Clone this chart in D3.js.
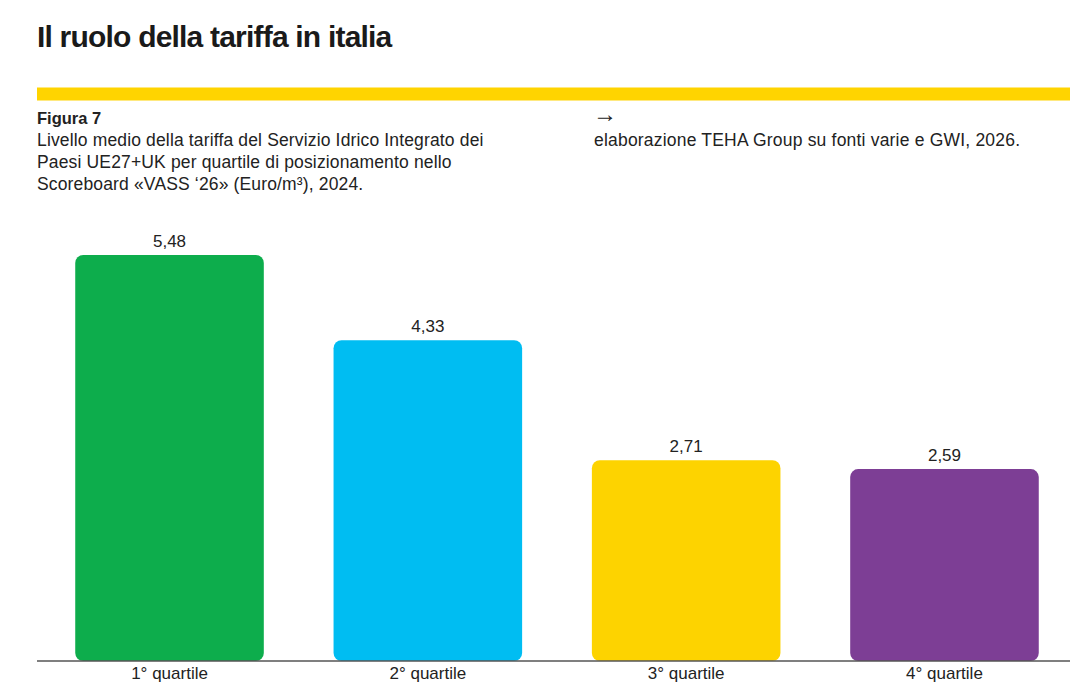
<!DOCTYPE html>
<html>
<head>
<meta charset="utf-8">
<script src="https://cdn.jsdelivr.net/npm/d3@7"></script>
<style>
  html, body { margin: 0; padding: 0; background: #fff; }
  svg { display: block; font-family: "Liberation Sans", Arial, sans-serif; }
</style>
</head>
<body>
<svg id="chart" width="1070" height="684"></svg>
<script>
// Tariff level by VASS '26 scoreboard quartile (Euro/m³), 2024
const categories = ["1° quartile", "2° quartile", "3° quartile", "4° quartile"];
const values = [5.48, 4.33, 2.71, 2.59];
const barColors = ["#0DAD4C", "#00BDF2", "#FDD300", "#7D3E95"];

const title = "Il ruolo della tariffa in italia";
const figureLabel = "Figura 7";
const subtitleLines = [
  "Livello medio della tariffa del Servizio Idrico Integrato dei",
  "Paesi UE27+UK per quartile di posizionamento nello",
  "Scoreboard «VASS ‘26» (Euro/m³), 2024."
];
const sourceLabel = "elaborazione TEHA Group su fonti varie e GWI, 2026.";

const fmt = v => d3.format(".2f")(v).replace(".", ",");

const svg = d3.select("#chart");
const W = 1070;
const left = 37;
const baseline = 661;
const ink = "#222";

// Header
svg.append("text")
  .attr("x", left).attr("y", 47)
  .attr("font-size", 30).attr("font-weight", 700)
  .attr("letter-spacing", -0.8)
  .attr("fill", "#1a1a1a")
  .text(title);

svg.append("rect")
  .attr("x", left).attr("y", 87.5)
  .attr("width", W - left).attr("height", 13)
  .attr("fill", "#FFD400");

svg.append("text")
  .attr("x", left).attr("y", 123.5)
  .attr("font-size", 16.5).attr("font-weight", 700)
  .attr("fill", ink)
  .text(figureLabel);

svg.append("g").selectAll("text")
  .data(subtitleLines)
  .join("text")
  .attr("x", left)
  .attr("y", (d, i) => 146 + i * 22)
  .attr("font-size", 17.5)
  .attr("letter-spacing", 0.15)
  .attr("fill", ink)
  .text(d => d);

svg.append("text")
  .attr("x", 593).attr("y", 122)
  .attr("font-size", 24)
  .attr("fill", ink)
  .text("→");

svg.append("text")
  .attr("x", 594).attr("y", 146)
  .attr("font-size", 17.5)
  .attr("letter-spacing", 0.2)
  .attr("fill", ink)
  .text(sourceLabel);

// Scales
const x = d3.scaleBand()
  .domain(categories)
  .range([left, 1077])
  .paddingInner(0.27)
  .paddingOuter(0.148);

const y = d3.scaleLinear()
  .domain([0, 6])
  .range([baseline, baseline - 6 * 74.1]);

const data = categories.map((c, i) => ({ c, v: values[i], color: barColors[i] }));

// Bars
svg.append("g").selectAll("rect")
  .data(data)
  .join("rect")
  .attr("x", d => x(d.c))
  .attr("y", d => y(d.v))
  .attr("width", x.bandwidth())
  .attr("height", d => y(0) - y(d.v))
  .attr("rx", 8).attr("ry", 8)
  .attr("fill", d => d.color);

// Value labels
svg.append("g").selectAll("text")
  .data(data)
  .join("text")
  .attr("x", d => x(d.c) + x.bandwidth() / 2)
  .attr("y", d => y(d.v) - 8)
  .attr("text-anchor", "middle")
  .attr("font-size", 17)
  .attr("fill", ink)
  .text(d => fmt(d.v));

// Category axis
const axis = svg.append("g")
  .attr("transform", `translate(0,${baseline})`)
  .call(d3.axisBottom(x).tickSize(0).tickPadding(6));
axis.select(".domain")
  .attr("d", `M${left},0H${W}`)
  .attr("stroke", "#555")
  .attr("stroke-width", 1.5);
axis.selectAll(".tick text")
  .attr("font-size", 17)
  .attr("font-family", "Liberation Sans, Arial, sans-serif")
  .attr("fill", ink);
</script>
</body>
</html>
